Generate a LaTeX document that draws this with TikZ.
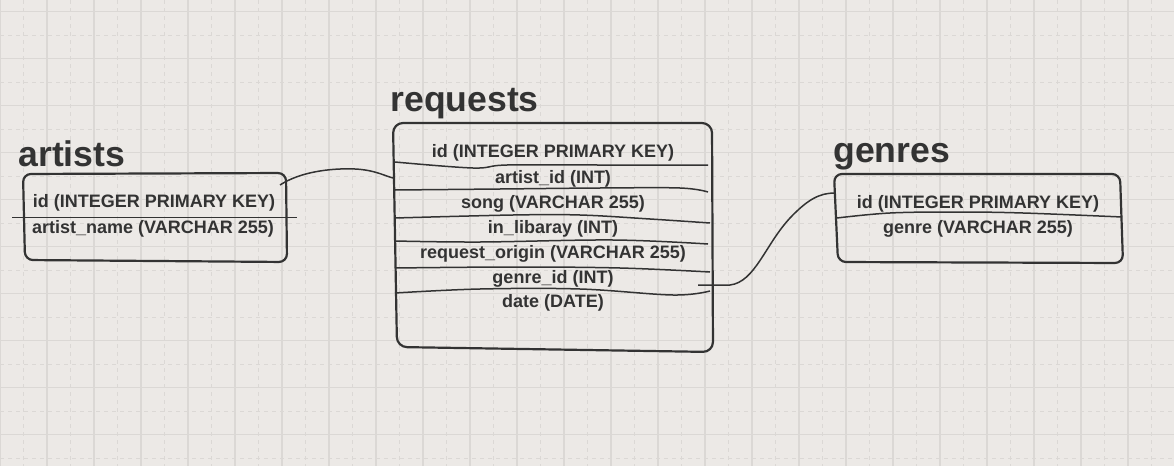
\documentclass[tikz,border=0pt]{standalone}
\usepackage{fontspec}
\setmainfont{Liberation Sans}
\usepackage{tikz}
\usetikzlibrary{calc}
\definecolor{paper}{HTML}{ECE9E6}
\definecolor{gridc}{HTML}{DBD8D5}
\definecolor{ink}{HTML}{333333}
\tikzset{
  field/.style={text=ink, font=\bfseries\fontsize{9}{10}\selectfont, inner sep=0pt},
  title/.style={text=ink, font=\bfseries\fontsize{17.8}{20}\selectfont, anchor=base west, inner sep=0pt},
  tablebox/.style={draw=ink, line width=1.1pt, line join=round},
  rowline/.style={draw=ink, line width=0.75pt},
  link/.style={draw=ink, line width=0.75pt}
}
\newcommand{\field}[3]{\node[field] (#1) at #2 {#3};}

\begin{document}
\begin{tikzpicture}[x=0.5pt, y=-0.5pt]
        \useasboundingbox (0,0) rectangle (1174,466);
        \fill[paper] (0,0) rectangle (1174,466);
        % grid
        \foreach \i in {0,...,24} {
            \draw[gridc, line width=0.6pt] (47*\i,0) -- (47*\i,466);
            \draw[gridc, line width=0.5pt, dash pattern=on 2pt off 2pt] (47*\i+23.5,0) -- (47*\i+23.5,466);
        }
        \foreach \j in {0,...,9} {
            \draw[gridc, line width=0.6pt] (0,47*\j+11.7) -- (1174,47*\j+11.7);
            \draw[gridc, line width=0.5pt, dash pattern=on 2pt off 2pt] (0,47*\j+35.2) -- (1174,47*\j+35.2);
        }
        % artists
        \node[title] (artists) at (18,166) {artists};
        \draw[tablebox, rounded corners=4pt] (23,174) -- (286,173) -- (287,262) -- (25,260) -- cycle;
        \field{artists-id}{(154,203)}{id (INTEGER PRIMARY KEY)}
        \field{artists-name}{(153,229)}{artist\_name (VARCHAR 255)}
        \draw[rowline] (12,217.7) -- (297,217.7);
        % requests
        \node[title] (requests) at (390,112) {requests};
        \draw[tablebox, rounded corners=5pt] (393,123) -- (712,123) -- (713,352) -- (397,347) -- cycle;
        \field{req-id}{(553,153)}{id (INTEGER PRIMARY KEY)}
        \field{req-artist}{(553,179)}{artist\_id (INT)}
        \field{req-song}{(553,204)}{song (VARCHAR 255)}
        \field{req-lib}{(553,229)}{in\_libaray (INT)}
        \field{req-origin}{(553,254)}{request\_origin (VARCHAR 255)}
        \field{req-genre}{(553,279)}{genre\_id (INT)}
        \field{req-date}{(553,303)}{date (DATE)}
        \draw[rowline] plot[smooth, tension=0.6] coordinates {(395,162) (473,168) (507,165) (600,165) (708,165)};
        \draw[rowline] plot[smooth, tension=0.6] coordinates {(395,190) (500,189) (600,188) (680,188) (708,192)};
        \draw[rowline] plot[smooth, tension=0.6] coordinates {(395,218) (513,215) (580,215) (650,219) (710,223)};
        \draw[rowline] plot[smooth, tension=0.6] coordinates {(395,241) (480,242) (613,240) (708,244)};
        \draw[rowline] plot[smooth, tension=0.6] coordinates {(395,268) (513,267) (620,268) (710,272)};
        \draw[rowline] plot[smooth, tension=0.6] coordinates {(395,293) (480,289) (580,289) (673,295) (710,291)};
        % genres
        \node[title] (genres) at (833,162) {genres};
        \draw[tablebox, rounded corners=4pt] (834,174) -- (1120,174) -- (1123,263) -- (838,262) -- cycle;
        \field{genres-id}{(978,204)}{id (INTEGER PRIMARY KEY)}
        \field{genres-name}{(978,229)}{genre (VARCHAR 255)}
        \draw[rowline] plot[smooth, tension=0.6] coordinates {(837,218) (890,213) (957,212) (1023,213) (1122,217)};
        % links
        \coordinate (artists-out) at (280,185);
        \coordinate (req-artist-in) at (393,178);
        \coordinate (req-genre-out) at (698,285);
        \coordinate (genres-in) at (835,193);
        \draw[link] (artists-out) .. controls (300,172) and (330,168) .. (355,169) .. controls (375,170) and (385,176) .. (req-artist-in);
        \draw[link] (req-genre-out) -- (730,285) .. controls (755,282) and (765,245) .. (790,218) .. controls (808,199) and (820,193) .. (genres-in);
\end{tikzpicture}
\end{document}
